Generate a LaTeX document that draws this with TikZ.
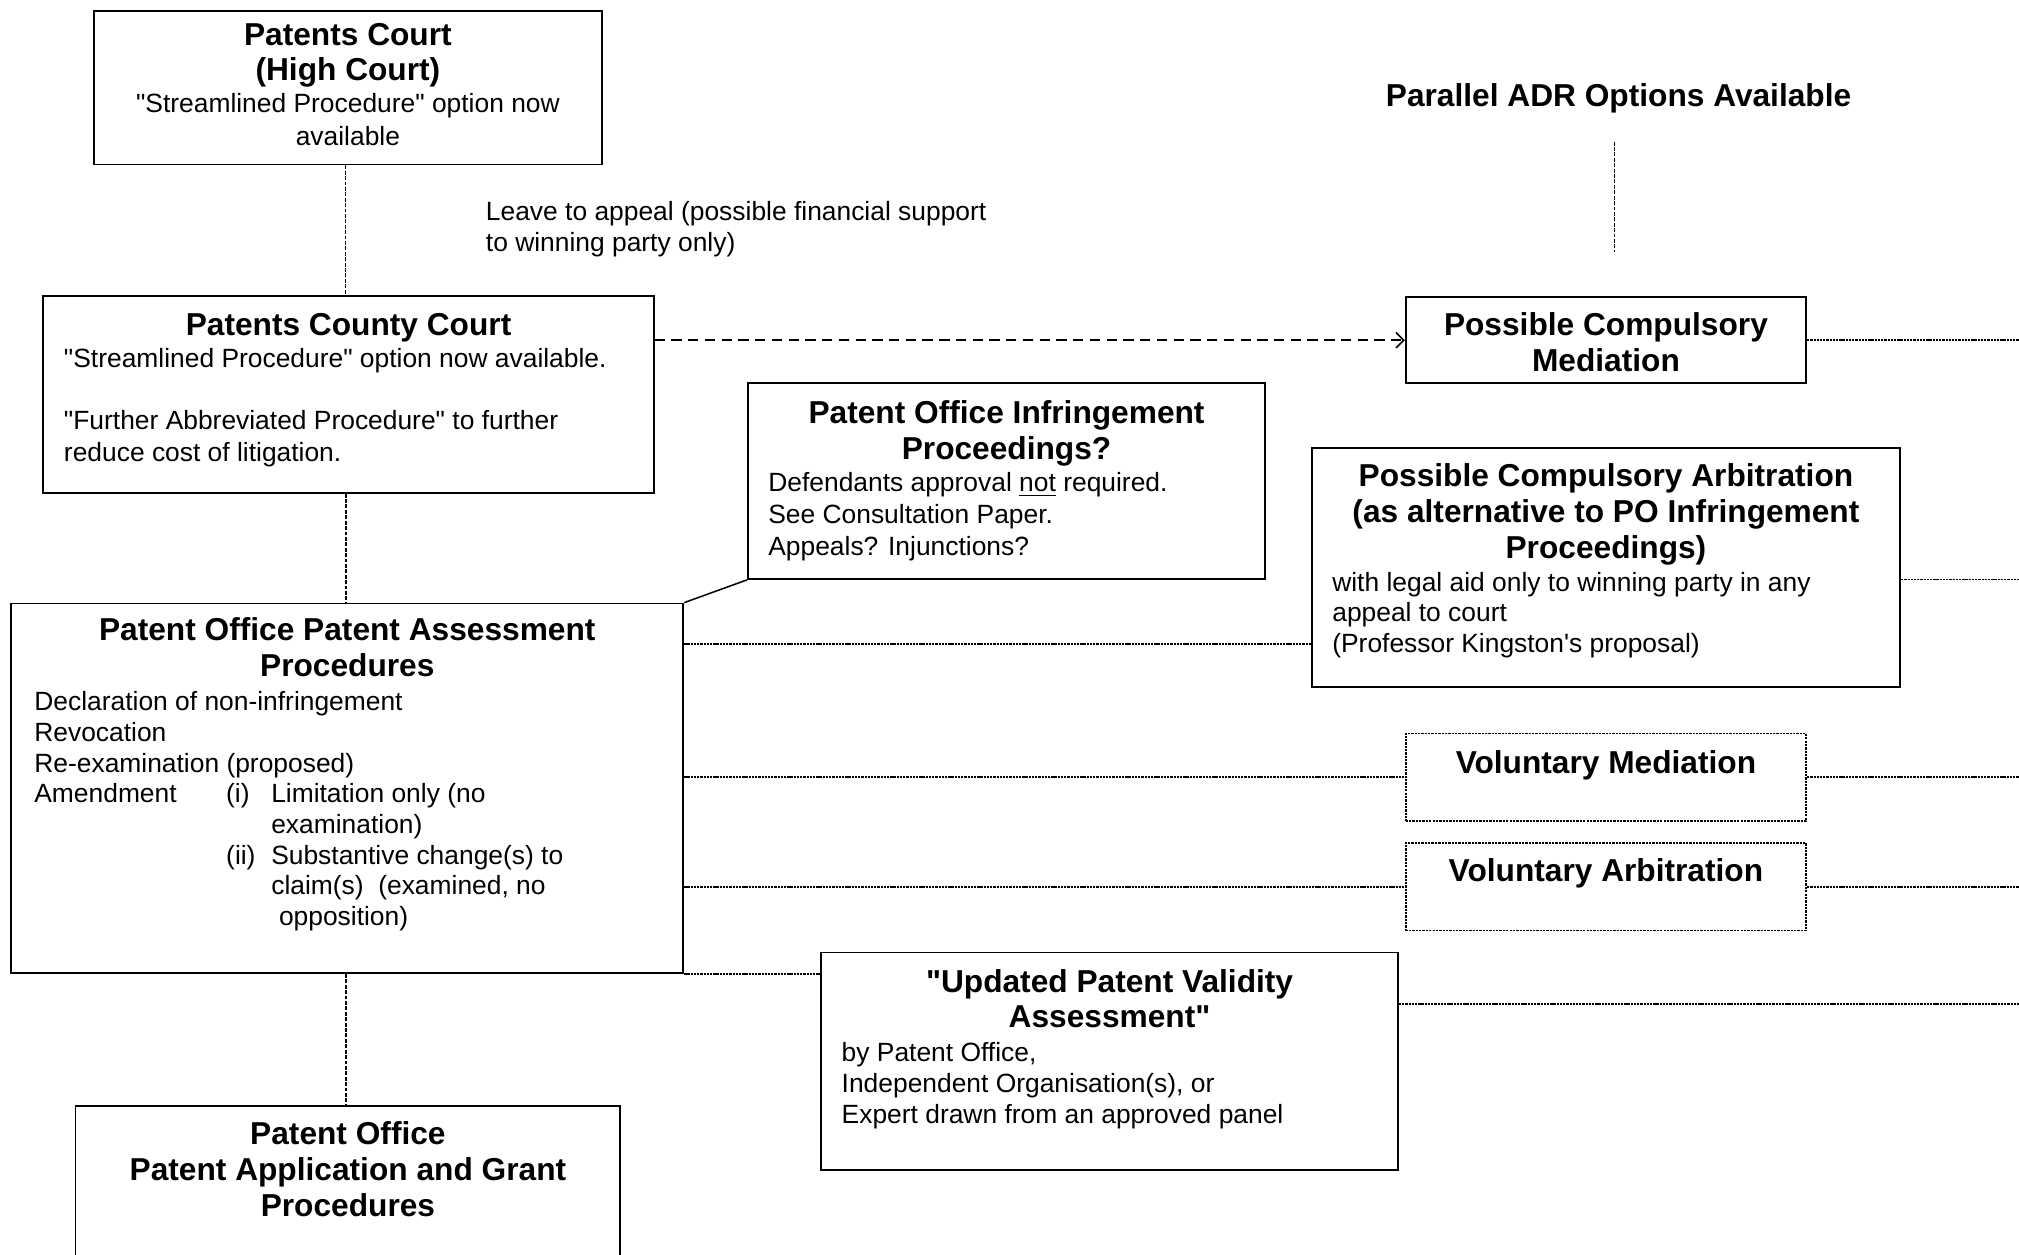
\documentclass[tikz,border=0pt]{standalone}
\usepackage{fontspec}
\setmainfont{Liberation Sans}[Ligatures=TeXOff]
\usetikzlibrary{arrows.meta}
\newcommand\tf{\fontsize{12.3pt}{14pt}\selectfont\bfseries}
\newcommand\bodyf{\fontsize{10.25pt}{12.2pt}\selectfont}
\newcommand\fl[1]{\rule{0pt}{#1}}
\newcommand\boxtext[3]{\begin{minipage}[t][#2][t]{#1}\parskip=0pt #3\end{minipage}}
\begin{document}
\begin{tikzpicture}[x=0.5pt,y=-0.5pt,
  box/.style={draw,line width=0.7pt,inner sep=0pt,anchor=north west},
  dbox/.style={box,dash pattern=on 0.9pt off 0.4pt},
  vconn/.style={line width=0.5pt,dash pattern=on 1.5pt off 0.6pt},
  hconn/.style={line width=0.7pt,dash pattern=on 0.9pt off 0.35pt},
  darrow/.style={line width=0.6pt,dash pattern=on 4pt off 2.5pt,-{Straight Barb[length=3pt,width=6pt]}},
  plainline/.style={line width=0.6pt}]
\useasboundingbox (0,0) rectangle (1568,974);
\fill[white] (0,0) rectangle (1568,974);
\clip (0,0) rectangle (1568,974);

\node[box] (pc) at (72,8) {\boxtext{197.5pt}{59.5pt}{{\centering\tf\baselineskip=13.5pt\fl{13.5pt}Patents Court\\(High Court)\par}{\centering\fontsize{10.25pt}{13pt}\selectfont\vspace{-0.8pt}"Streamlined Procedure" option now\\available\par}}};

\node[box] (pcc) at (33,229) {\boxtext{237pt}{76.5pt}{{\centering\tf\fl{15.5pt}Patents County Court\par}{\raggedright\bodyf\leftskip=8pt\baselineskip=12.5pt "Streamlined Procedure" option now available.\par\vspace{11.5pt}"Further Abbreviated Procedure" to further\\reduce cost of litigation.\par}}};

\node[box] (poi) at (580,297) {\boxtext{201pt}{76pt}{{\centering\tf\fl{15.5pt}Patent Office Infringement\\Proceedings?\par}{\raggedright\bodyf\leftskip=8pt\baselineskip=12.3pt\vspace{0.3pt}Defendants approval \underline{not} required.\\See Consultation Paper.\\Appeals? Injunctions?\par}}};

\node[box] (popa) at (8,468) {\boxtext{261pt}{143.5pt}{{\centering\tf\fl{14.5pt}Patent Office Patent Assessment\\Procedures\par}{\raggedright\bodyf\leftskip=9pt\baselineskip=11.9pt\vspace{1.3pt}Declaration of non-infringement\\
Revocation\\
Re-examination (proposed)\\
\makebox[74.5pt][l]{Amendment}\makebox[17.5pt][l]{(i)}Limitation only (no\\
\hspace*{92pt}examination)\\
\hspace*{74.5pt}\makebox[17.5pt][l]{(ii)}Substantive change(s) to\\
\hspace*{92pt}claim(s)\ \ (examined, no\\
\hspace*{95pt}opposition)\par}}};

\node[box] (poag) at (58,858) {\boxtext{211.5pt}{75pt}{{\centering\tf\fl{15pt}Patent Office\\Patent Application and Grant\\Procedures\par}}};

\node[box] (upva) at (637,739) {\boxtext{224pt}{84.5pt}{{\centering\tf\baselineskip=13.5pt\fl{15.5pt}"Updated Patent Validity\\Assessment"\par}{\raggedright\bodyf\leftskip=8pt\baselineskip=12pt\vspace{1.3pt}by Patent Office,\\Independent Organisation(s), or\\Expert drawn from an approved panel\par}}};

\node[box] (pcm) at (1091,230) {\boxtext{155.5pt}{33.5pt}{{\centering\tf\fl{15pt}Possible Compulsory\\Mediation\par}}};

\node[box] (pca) at (1018,347) {\boxtext{228.5pt}{93pt}{{\centering\tf\fl{15pt}Possible Compulsory Arbitration\\(as alternative to PO Infringement\\Proceedings)\par}{\raggedright\bodyf\leftskip=8pt\baselineskip=11.8pt\vspace{1pt}with legal aid only to winning party in any\\appeal to court\\(Professor Kingston's proposal)\par}}};

\node[dbox] (vm) at (1091,569) {\boxtext{155.5pt}{34pt}{{\centering\tf\fl{15.5pt}Voluntary Mediation\par}}};
\node[dbox] (va) at (1091,654) {\boxtext{155.5pt}{34pt}{{\centering\tf\fl{15pt}Voluntary Arbitration\par}}};

\node[inner sep=0pt,anchor=north west] (leave) at (377,155) {\parbox[t]{230pt}{\raggedright\bodyf\baselineskip=12pt\fl{8pt}Leave to appeal (possible financial support\\to winning party only)}};

\node[anchor=base,inner sep=0pt] (adr) at (1257,83) {\tf Parallel ADR Options Available};

\coordinate (adrtop) at (1254,110);
\coordinate (adrbot) at (1254,196);
\coordinate (redge) at (1568,0);
\coordinate (y500) at (0,500);
\coordinate (y450) at (0,450);
\coordinate (y780) at (0,780);

\draw[vconn] ([xshift=-1pt]pc.south) -- ([xshift=-1pt]pc.south |- pcc.north);
\draw[vconn] ([xshift=-1pt]pcc.south) -- ([xshift=-1pt]pcc.south |- popa.north);
\draw[vconn] ([xshift=-0.5pt]popa.south) -- ([xshift=-0.5pt]popa.south |- poag.north);
\draw[vconn] (adrtop) -- (adrbot);

\draw[darrow] (pcc.east |- pcm.west) -- (pcm.west);
\draw[plainline] (poi.south west) -- (popa.north east);
\draw[hconn] (popa.north east |- y500) -- (pca.west |- y500);
\draw[hconn] (popa.east |- vm.west) -- (vm.west);
\draw[hconn] (popa.east |- va.west) -- (va.west);
\draw[hconn] (popa.south east) -- (upva.west |- popa.south east);

\draw[hconn] (pcm.east) -- (pcm.east -| redge);
\draw[hconn] (pca.east |- y450) -- (redge |- y450);
\draw[hconn] (vm.east) -- (vm.east -| redge);
\draw[hconn] (va.east) -- (va.east -| redge);
\draw[hconn] (upva.east |- y780) -- (redge |- y780);
\end{tikzpicture}
\end{document}
